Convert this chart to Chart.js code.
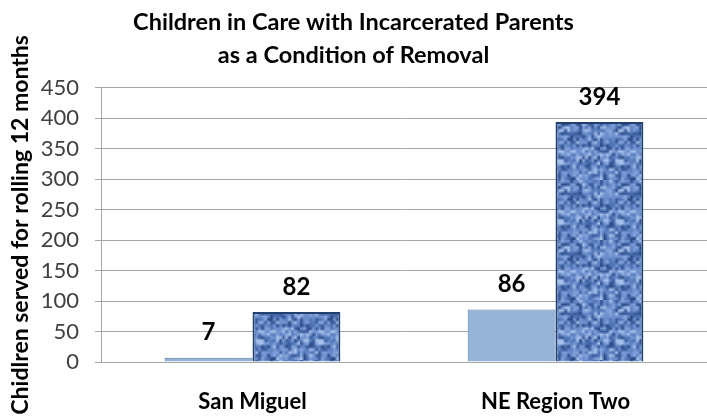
<!DOCTYPE html>
<html>
<head>
<meta charset="utf-8">
<script src="https://cdn.jsdelivr.net/npm/chart.js@4.4.1/dist/chart.umd.min.js"></script>
<style>
  html, body { margin: 0; padding: 0; background: #fff; }
  #wrap { width: 707px; height: 417px; }
</style>
</head>
<body>
<div id="wrap"><canvas id="chart"></canvas></div>
<script>
// Datos del grafico
const regiones = ['San Miguel', 'NE Region Two'];
const serieClara = [7, 86];
const serieTextura = [82, 394];
const ticksY = [0, 50, 100, 150, 200, 250, 300, 350, 400, 450];

const fuente = 'Lato, "Open Sans", sans-serif';

// Textura tipo mezclilla para la segunda serie (manchas suaves)
function crearTextura() {
    const n = 20;
    const peq = document.createElement('canvas');
    peq.width = n;
    peq.height = n;
    const p = peq.getContext('2d');
    let s = 2024;
    const sig = () => { s = (s * 1103515245 + 12345) & 0x7fffffff; return s / 0x7fffffff; };
    const tonos = ['#3a5c9c', '#4f72b4', '#6b8dcb', '#86a6dc', '#a4bfea', '#2c4c88', '#7a9ad6', '#5c7fc0'];
    for (let y = 0; y < n; y++) {
        for (let x = 0; x < n; x++) {
            p.fillStyle = tonos[Math.floor(sig() * tonos.length)];
            p.fillRect(x, y, 1, 1);
        }
    }
    const c = document.createElement('canvas');
    c.width = n * 3;
    c.height = n * 3;
    const g = c.getContext('2d');
    g.imageSmoothingEnabled = true;
    g.drawImage(peq, 0, 0, n * 3, n * 3);
    return g.createPattern(c, 'repeat');
}

// Etiquetas de valor sobre cada barra
const etiquetas = {
    id: 'etiquetas',
    afterDatasetsDraw(chart) {
        const ctx = chart.ctx;
        ctx.save();
        ctx.font = 'bold 24px ' + fuente;
        ctx.fillStyle = '#000';
        ctx.textAlign = 'center';
        ctx.textBaseline = 'bottom';
        chart.data.datasets.forEach((ds, i) => {
            chart.getDatasetMeta(i).data.forEach((bar, j) => {
                ctx.fillText(ds.data[j], bar.x, bar.y - 13);
            });
        });
        ctx.restore();
    }
};

const ctx = document.getElementById('chart').getContext('2d');
const grafico = new Chart(ctx, {
    type: 'bar',
    data: {
        labels: regiones,
        datasets: [{
            data: serieClara,
            backgroundColor: '#95b3d7',
            borderColor: '#5677a8',
            borderWidth: 1
        }, {
            data: serieTextura,
            backgroundColor: crearTextura(),
            borderColor: '#22406f',
            borderWidth: 2
        }]
    },
    options: {
        responsive: true,
        maintainAspectRatio: false,
        animation: false,
        layout: { padding: 0 },
        datasets: {
            bar: { categoryPercentage: 0.58, barPercentage: 1 }
        },
        plugins: {
            legend: { display: false },
            tooltip: { enabled: false },
            title: {
                display: true,
                text: ['Children in Care with Incarcerated Parents', 'as a Condition of Removal'],
                color: '#000',
                font: { family: fuente, size: 23.5, weight: 'bold', lineHeight: 1.4 },
                padding: { top: 6, bottom: 16 }
            }
        },
        scales: {
            x: {
                afterFit: (eje) => { eje.height = 55; },
                grid: { display: false, drawTicks: false },
                border: { display: true, color: '#a6a6a6' },
                ticks: {
                    color: '#000',
                    padding: 27,
                    maxRotation: 0,
                    font: { family: fuente, size: 22, weight: 'bold' }
                }
            },
            y: {
                min: 0,
                max: 450,
                afterBuildTicks: (eje) => { eje.ticks = ticksY.map(v => ({ value: v })); },
                afterFit: (eje) => { eje.width = 101; },
                grid: { color: '#a6a6a6', tickLength: 6, lineWidth: 1 },
                border: { color: '#a6a6a6' },
                ticks: {
                    color: '#404040',
                    padding: 16,
                    font: { family: fuente, size: 22 }
                },
                title: {
                    display: true,
                    text: 'Chidlren served for rolling 12 months',
                    color: '#000',
                    padding: { top: 7, bottom: 0 },
                    font: { family: fuente, size: 23, weight: 'bold' }
                }
            }
        }
    },
    plugins: [etiquetas]
});
</script>
</body>
</html>
